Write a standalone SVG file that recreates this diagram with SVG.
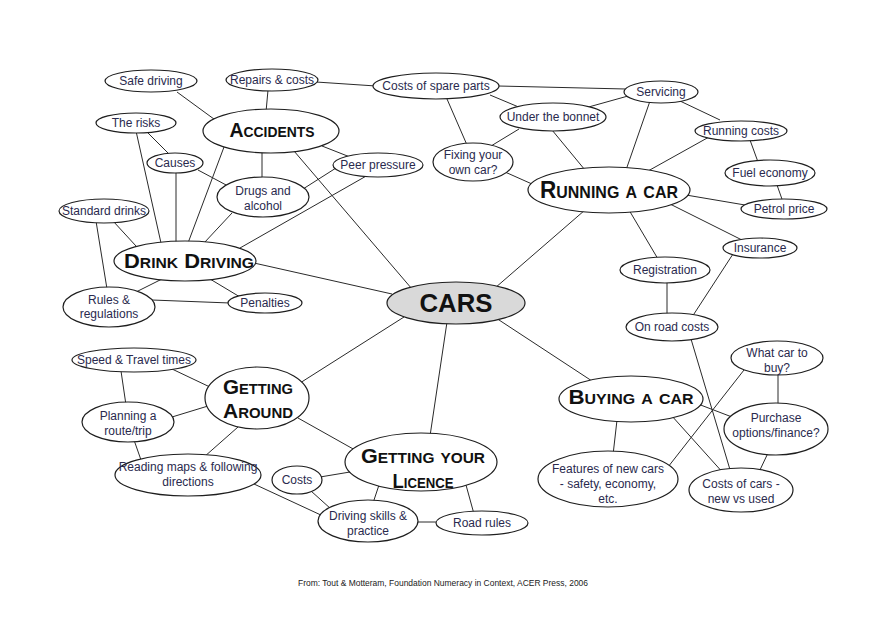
<svg xmlns="http://www.w3.org/2000/svg" width="886" height="640" viewBox="0 0 886 640">
<style>
.n ellipse{fill:#fff;stroke:#1e1e1e;stroke-width:1.2}
#cars ellipse{fill:#d9d9d9}
.l{font-family:"Liberation Sans",Arial,sans-serif;font-size:12px;fill:#2a2a4e;text-anchor:middle}
.h{font-family:"Liberation Sans",Arial,sans-serif;font-weight:bold;font-variant:small-caps;fill:#111;text-anchor:middle}
#edges line{stroke:#2a2a2a;stroke-width:1}
.f{font-family:"Liberation Sans",Arial,sans-serif;font-size:9px;fill:#222}
</style>
<rect width="886" height="640" fill="#fff"/>
<g id="edges">
<line x1="177" y1="92" x2="218" y2="122"/>
<line x1="268" y1="90" x2="266" y2="112"/>
<line x1="316" y1="82" x2="376" y2="86"/>
<line x1="146" y1="131" x2="170" y2="155"/>
<line x1="136" y1="131" x2="161" y2="243"/>
<line x1="176" y1="171" x2="176" y2="243"/>
<line x1="198" y1="170" x2="228" y2="186"/>
<line x1="224" y1="147" x2="188" y2="243"/>
<line x1="262" y1="151" x2="262" y2="179"/>
<line x1="322" y1="146" x2="350" y2="157"/>
<line x1="294" y1="151" x2="412" y2="289"/>
<line x1="336" y1="168" x2="303" y2="189"/>
<line x1="368" y1="175" x2="240" y2="248"/>
<line x1="232" y1="213" x2="204" y2="243"/>
<line x1="113" y1="221" x2="136" y2="246"/>
<line x1="96" y1="221" x2="107" y2="289"/>
<line x1="254" y1="263" x2="392" y2="294"/>
<line x1="162" y1="279" x2="136" y2="292"/>
<line x1="210" y1="279" x2="240" y2="297"/>
<line x1="152" y1="300" x2="230" y2="303"/>
<line x1="498" y1="86" x2="626" y2="89"/>
<line x1="490" y1="95" x2="521" y2="108"/>
<line x1="447" y1="99" x2="467" y2="145"/>
<line x1="585" y1="108" x2="628" y2="96"/>
<line x1="519" y1="129" x2="491" y2="146"/>
<line x1="552" y1="130" x2="585" y2="170"/>
<line x1="650" y1="101" x2="626" y2="170"/>
<line x1="680" y1="101" x2="720" y2="120"/>
<line x1="709" y1="137" x2="648" y2="171"/>
<line x1="750" y1="140" x2="758" y2="162"/>
<line x1="777" y1="185" x2="783" y2="202"/>
<line x1="686" y1="195" x2="745" y2="205"/>
<line x1="505" y1="172" x2="532" y2="184"/>
<line x1="670" y1="204" x2="742" y2="240"/>
<line x1="629" y1="210" x2="658" y2="259"/>
<line x1="585" y1="210" x2="495" y2="288"/>
<line x1="667" y1="281" x2="667" y2="315"/>
<line x1="733" y1="254" x2="692" y2="317"/>
<line x1="691" y1="339" x2="731" y2="473"/>
<line x1="496" y1="318" x2="592" y2="381"/>
<line x1="778" y1="373" x2="778" y2="405"/>
<line x1="744" y1="370" x2="668" y2="467"/>
<line x1="698" y1="404" x2="732" y2="417"/>
<line x1="617" y1="420" x2="613" y2="455"/>
<line x1="671" y1="415" x2="725" y2="475"/>
<line x1="768" y1="453" x2="759" y2="472"/>
<line x1="172" y1="369" x2="212" y2="388"/>
<line x1="121" y1="371" x2="126" y2="405"/>
<line x1="172" y1="417" x2="208" y2="406"/>
<line x1="134" y1="440" x2="141" y2="460"/>
<line x1="238" y1="427" x2="204" y2="457"/>
<line x1="300" y1="383" x2="404" y2="317"/>
<line x1="298" y1="418" x2="355" y2="450"/>
<line x1="447" y1="322" x2="430" y2="436"/>
<line x1="320" y1="477" x2="350" y2="472"/>
<line x1="311" y1="491" x2="331" y2="509"/>
<line x1="379" y1="485" x2="373" y2="503"/>
<line x1="254" y1="484" x2="323" y2="516"/>
<line x1="466" y1="485" x2="474" y2="514"/>
<line x1="416" y1="522" x2="440" y2="522"/>
</g>
<g id="safe-driving" class="n"><ellipse cx="151" cy="81" rx="46" ry="11"/><text class="l" x="151" y="85">Safe driving</text></g>
<g id="repairs" class="n"><ellipse cx="272" cy="80" rx="46" ry="11"/><text class="l" x="272" y="84">Repairs &amp; costs</text></g>
<g id="spare-parts" class="n"><ellipse cx="436" cy="86" rx="63" ry="13"/><text class="l" x="436" y="90">Costs of spare parts</text></g>
<g id="servicing" class="n"><ellipse cx="661" cy="92" rx="37" ry="11"/><text class="l" x="661" y="96">Servicing</text></g>
<g id="bonnet" class="n"><ellipse cx="553" cy="117" rx="53" ry="14"/><text class="l" x="553" y="121">Under the bonnet</text></g>
<g id="running-costs" class="n"><ellipse cx="741" cy="131" rx="46" ry="10"/><text class="l" x="741" y="135">Running costs</text></g>
<g id="fixing" class="n"><ellipse cx="473" cy="162" rx="40" ry="19"/><text class="l" x="473" y="159">Fixing your</text><text class="l" x="473" y="174">own car?</text></g>
<g id="running-car" class="n"><ellipse cx="609" cy="190" rx="81" ry="23"/><text class="h" x="609" y="198" font-size="24" textLength="138" lengthAdjust="spacingAndGlyphs">Running a car</text></g>
<g id="fuel" class="n"><ellipse cx="770" cy="173" rx="45" ry="13"/><text class="l" x="770" y="177">Fuel economy</text></g>
<g id="petrol" class="n"><ellipse cx="784" cy="209" rx="43" ry="10"/><text class="l" x="784" y="213">Petrol price</text></g>
<g id="insurance" class="n"><ellipse cx="760" cy="248" rx="37" ry="10"/><text class="l" x="760" y="252">Insurance</text></g>
<g id="registration" class="n"><ellipse cx="665" cy="270" rx="45" ry="13"/><text class="l" x="665" y="274">Registration</text></g>
<g id="on-road" class="n"><ellipse cx="672" cy="327" rx="46" ry="14"/><text class="l" x="672" y="331">On road costs</text></g>
<g id="what-car" class="n"><ellipse cx="777" cy="358" rx="46" ry="17"/><text class="l" x="777" y="357">What car to</text><text class="l" x="777" y="372">buy?</text></g>
<g id="buying" class="n"><ellipse cx="631" cy="399" rx="72" ry="23"/><text class="h" x="631" y="404" font-size="21" textLength="125" lengthAdjust="spacingAndGlyphs">Buying a car</text></g>
<g id="purchase" class="n"><ellipse cx="776" cy="429" rx="52" ry="26"/><text class="l" x="776" y="422">Purchase</text><text class="l" x="776" y="437">options/finance?</text></g>
<g id="features" class="n"><ellipse cx="608" cy="479" rx="70" ry="28"/><text class="l" x="608" y="473">Features of new cars</text><text class="l" x="608" y="488">- safety, economy,</text><text class="l" x="608" y="503">etc.</text></g>
<g id="costs-cars" class="n"><ellipse cx="741" cy="490" rx="52" ry="22"/><text class="l" x="741" y="488">Costs of cars -</text><text class="l" x="741" y="503">new vs used</text></g>
<g id="cars" class="n"><ellipse cx="456" cy="303" rx="69" ry="21"/><text class="h" x="456" y="312" font-size="25" textLength="73" lengthAdjust="spacingAndGlyphs">CARS</text></g>
<g id="accidents" class="n"><ellipse cx="271" cy="131" rx="68" ry="22"/><text class="h" x="272" y="137" font-size="21" textLength="85" lengthAdjust="spacingAndGlyphs">Accidents</text></g>
<g id="risks" class="n"><ellipse cx="136" cy="123" rx="40" ry="10"/><text class="l" x="136" y="127">The risks</text></g>
<g id="causes" class="n"><ellipse cx="175" cy="163" rx="28" ry="10"/><text class="l" x="175" y="167">Causes</text></g>
<g id="peer" class="n"><ellipse cx="378" cy="165" rx="45" ry="12"/><text class="l" x="378" y="169">Peer pressure</text></g>
<g id="drugs" class="n"><ellipse cx="263" cy="197" rx="46" ry="20"/><text class="l" x="263" y="195">Drugs and</text><text class="l" x="263" y="210">alcohol</text></g>
<g id="standard-drinks" class="n"><ellipse cx="104" cy="211" rx="45" ry="12"/><text class="l" x="104" y="215">Standard drinks</text></g>
<g id="drink-driving" class="n"><ellipse cx="185" cy="261" rx="71" ry="20"/><text class="h" x="189" y="268" font-size="21" textLength="130" lengthAdjust="spacingAndGlyphs">Drink Driving</text></g>
<g id="rules" class="n"><ellipse cx="109" cy="307" rx="46" ry="20"/><text class="l" x="109" y="304">Rules &amp;</text><text class="l" x="109" y="318">regulations</text></g>
<g id="penalties" class="n"><ellipse cx="265" cy="303" rx="37" ry="10"/><text class="l" x="265" y="307">Penalties</text></g>
<g id="speed" class="n"><ellipse cx="134" cy="360" rx="62" ry="12"/><text class="l" x="134" y="364">Speed &amp; Travel times</text></g>
<g id="getting-around" class="n"><ellipse cx="257" cy="398" rx="52" ry="31"/><text class="h" x="258" y="394" font-size="21" textLength="70" lengthAdjust="spacingAndGlyphs">Getting</text><text class="h" x="258" y="418" font-size="21" textLength="70" lengthAdjust="spacingAndGlyphs">Around</text></g>
<g id="planning" class="n"><ellipse cx="128" cy="422" rx="46" ry="20"/><text class="l" x="128" y="420">Planning a</text><text class="l" x="128" y="435">route/trip</text></g>
<g id="reading" class="n"><ellipse cx="188" cy="475" rx="73" ry="21"/><text class="l" x="188" y="471">Reading maps &amp; following</text><text class="l" x="188" y="486">directions</text></g>
<g id="licence" class="n"><ellipse cx="421" cy="462" rx="76" ry="29"/><text class="h" x="423" y="463" font-size="21" textLength="124" lengthAdjust="spacingAndGlyphs">Getting your</text><text class="h" x="423" y="488" font-size="21" textLength="61" lengthAdjust="spacingAndGlyphs">Licence</text></g>
<g id="costs" class="n"><ellipse cx="297" cy="480" rx="25" ry="14"/><text class="l" x="297" y="484">Costs</text></g>
<g id="driving-skills" class="n"><ellipse cx="368" cy="521" rx="50" ry="21"/><text class="l" x="368" y="520">Driving skills &amp;</text><text class="l" x="368" y="535">practice</text></g>
<g id="road-rules" class="n"><ellipse cx="482" cy="523" rx="46" ry="12"/><text class="l" x="482" y="527">Road rules</text></g>
<text class="f" x="298" y="586" textLength="290" lengthAdjust="spacingAndGlyphs">From: Tout &amp; Motteram, Foundation Numeracy in Context, ACER Press, 2006</text>
</svg>
